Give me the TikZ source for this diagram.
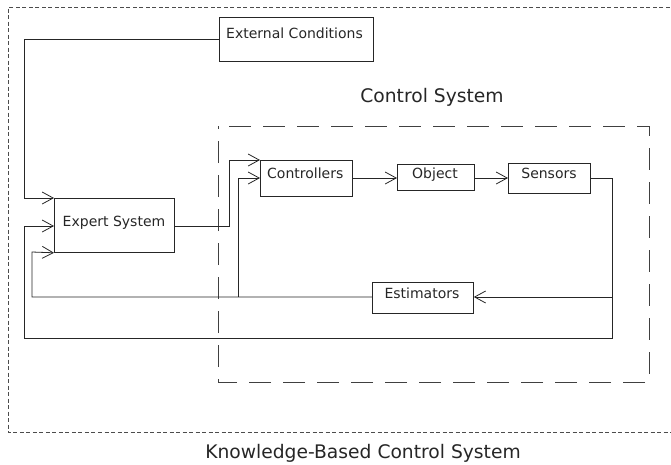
\documentclass[tikz,border=0pt]{standalone}
\usepackage{fontspec}
\setmainfont{DejaVu Sans}
\usetikzlibrary{arrows.meta}
\begin{document}
\begin{tikzpicture}[x=1pt,y=-1pt,
  box/.style={draw=black!85, line width=0.8pt, inner sep=0pt, anchor=north west},
  lbl/.style={font=\fontsize{14}{16}\selectfont, inner sep=0pt, text=black!85},
  big/.style={font=\fontsize{18.7}{22}\selectfont, inner sep=0pt, text=black!85},
  wire/.style={draw=black!85, line width=0.8pt},
  arr/.style={wire, -{Straight Barb[length=11pt,width=12pt,line width=0.8pt]}},
  outer/.style={draw=black!70, line width=0.7pt, dash pattern=on 4pt off 2.5pt},
  inner/.style={draw=black!75, line width=0.8pt, dash pattern=on 22pt off 12pt, dash phase=23pt}]
\useasboundingbox (0,0) rectangle (671,464);
% frames
\draw[outer] (676,7) -- (8,7) -- (8,432) -- (676,432);
\draw[inner] (218,126) -- (649,126) -- (649,382) -- (218,382) -- cycle;
% boxes
\node[box, minimum width=154pt, minimum height=44pt] (ext) at (219,17) {};
\node[box, minimum width=92pt, minimum height=36pt] (ctrl) at (260,160) {};
\node[box, minimum width=77pt, minimum height=26pt] (obj) at (397,164) {};
\node[box, minimum width=82pt, minimum height=30pt] (sens) at (508,163) {};
\node[box, minimum width=120pt, minimum height=54pt] (exp) at (54,198) {};
\node[box, minimum width=101pt, minimum height=31pt] (est) at (372,282) {};
% texts
\node[lbl, anchor=base west] (extT) at (226,38) {External Conditions};
\node[lbl, anchor=base west] (ctrlT) at (267,178) {Controllers};
\node[lbl, anchor=base] (objT) at (435,178) {Object};
\node[lbl, anchor=base] (sensT) at (549,178) {Sensors};
\node[lbl, anchor=base] (expT) at (114,226) {Expert System};
\node[lbl, anchor=base] (estT) at (422,298) {Estimators};
\node[big, anchor=base] (csT) at (432,102) {Control System};
\node[big, anchor=base] (kbT) at (363,458) {Knowledge-Based Control System};
% junction coordinates
\coordinate (j1) at (612,297);
\coordinate (j2) at (238,297);
% connectors
\draw[arr] (ext.west |- 0,39) -- (24,39) -- (24,198) -- (exp.north west);
\draw[arr] (exp.east |- 0,226) -- (229,226) -- (229,160) -- (ctrl.north west);
\draw[arr] (j2) -- (238,178) -- (ctrl.west |- 0,178);
\draw[arr] (ctrl.east |- 0,178) -- (obj.west |- 0,178);
\draw[arr] (obj.east |- 0,178) -- (sens.west |- 0,178);
\draw[arr] (sens.east |- 0,178) -- (612,178) -- (612,338) -- (24,338) -- (24,226) -- (exp.west |- 0,226);
\draw[arr] (j1) -- (est.east |- 0,297);
\draw[arr] (est.west |- 0,297) -- (32,297) -- (32,252) -- (exp.south west);
\end{tikzpicture}
\end{document}
